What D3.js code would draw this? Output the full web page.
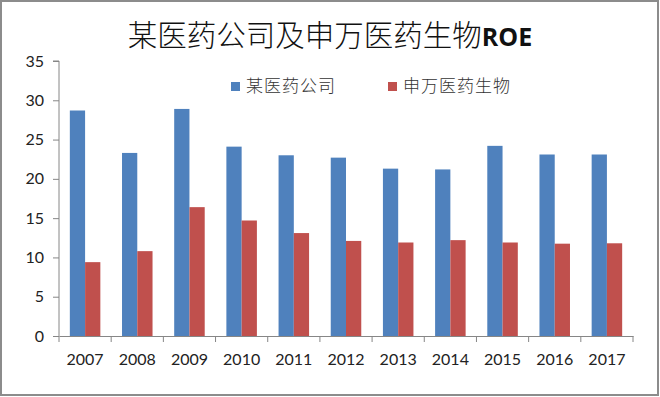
<!DOCTYPE html>
<html><head><meta charset="utf-8">
<script src="https://cdn.jsdelivr.net/npm/d3@7"></script>
<style>
body{margin:0;background:#fff;}
svg{display:block;}
</style></head>
<body>
<svg id="c" width="660" height="397"></svg>
<script>
const categories = ["2007","2008","2009","2010","2011","2012","2013","2014","2015","2016","2017"];
const companyROE = [28.7,23.3,28.9,24.1,23.0,22.7,21.3,21.2,24.2,23.1,23.1];
const sectorROE = [9.4,10.8,16.4,14.7,13.1,12.1,11.9,12.2,11.9,11.75,11.8];
const seriesNames = ["某医药公司","申万医药生物"];
const yTicks = [0,5,10,15,20,25,30,35];
const title = "某医药公司及申万医药生物";
const titleSuffix = "ROE";

const colors = ["#4F81BD","#C0504D"];
const svg = d3.select("#c");
const W = 660, H = 397;
const m = {left:59, right:27, top:61, bottom:61};

svg.append("rect").attr("x",1).attr("y",1).attr("width",W-3).attr("height",H-3)
  .attr("fill","#fff").attr("stroke","#8c8c8c").attr("stroke-width",2);

const x0 = d3.scaleBand().domain(categories).range([m.left, W-m.right]).paddingInner(0).paddingOuter(0);
const inner = d3.scaleBand().domain([0,1]).range([0, x0.bandwidth()]).paddingInner(0).paddingOuter(0.71);
const y = d3.scaleLinear().domain([0,35]).range([H-m.bottom, m.top]);

// bars
const data = categories.map((c,i)=>({c, v:[companyROE[i], sectorROE[i]]}));
const g = svg.append("g");
data.forEach(d=>{
  d.v.forEach((v,k)=>{
    g.append("rect").attr("x", x0(d.c)+inner(k)).attr("y", y(v))
      .attr("width", inner.bandwidth()).attr("height", y(0)-y(v)).attr("fill", colors[k]);
  });
});

const font = "Lato, 'Open Sans', sans-serif";
// y axis
const ya = svg.append("g").attr("transform",`translate(${m.left},0)`)
  .call(d3.axisLeft(y).tickValues(yTicks).tickSize(6).tickPadding(9).tickFormat(d3.format("d")));
ya.select(".domain").attr("stroke","#868686").attr("d",`M-6,${y(35)}H0V${y(0)}`);
ya.selectAll(".tick line").attr("stroke","#868686");
ya.selectAll("text").attr("font-family",font).attr("font-size",16).attr("fill","#222");

// x axis
const xa = svg.append("g").attr("transform",`translate(0,${y(0)})`)
  .call(d3.axisBottom(x0).tickSize(0).tickPadding(18));
xa.select(".domain").attr("stroke","#868686");
xa.selectAll("text").attr("font-family",font).attr("font-size",16).attr("fill","#222");
const bounds = categories.map(c=>x0(c)).concat([x0(categories[categories.length-1])+x0.bandwidth()]);
xa.selectAll(".sep").data(bounds).enter().append("line")
  .attr("x1",d=>d).attr("x2",d=>d).attr("y1",0).attr("y2",6).attr("stroke","#868686");

// title
const t = svg.append("text").attr("x",330).attr("y",46).attr("text-anchor","middle")
  .attr("font-size",29.5).attr("fill","#111");
t.append("tspan").attr("font-family","'Noto Sans CJK SC', sans-serif").attr("font-weight",300).text(title);
t.append("tspan").attr("font-family","'Open Sans', sans-serif").attr("font-weight","bold").attr("font-size",25).text(titleSuffix);

// legend
const legX = [231, 388];
seriesNames.forEach((s,k)=>{
  svg.append("rect").attr("x",legX[k]).attr("y",82).attr("width",9).attr("height",9).attr("fill",colors[k]);
  svg.append("text").attr("x",legX[k]+15).attr("y",92).attr("font-family","'Noto Sans CJK SC', sans-serif")
    .attr("font-weight",300).attr("font-size",17).attr("letter-spacing",1).attr("fill","#333").text(s);
});
</script>
</body></html>
